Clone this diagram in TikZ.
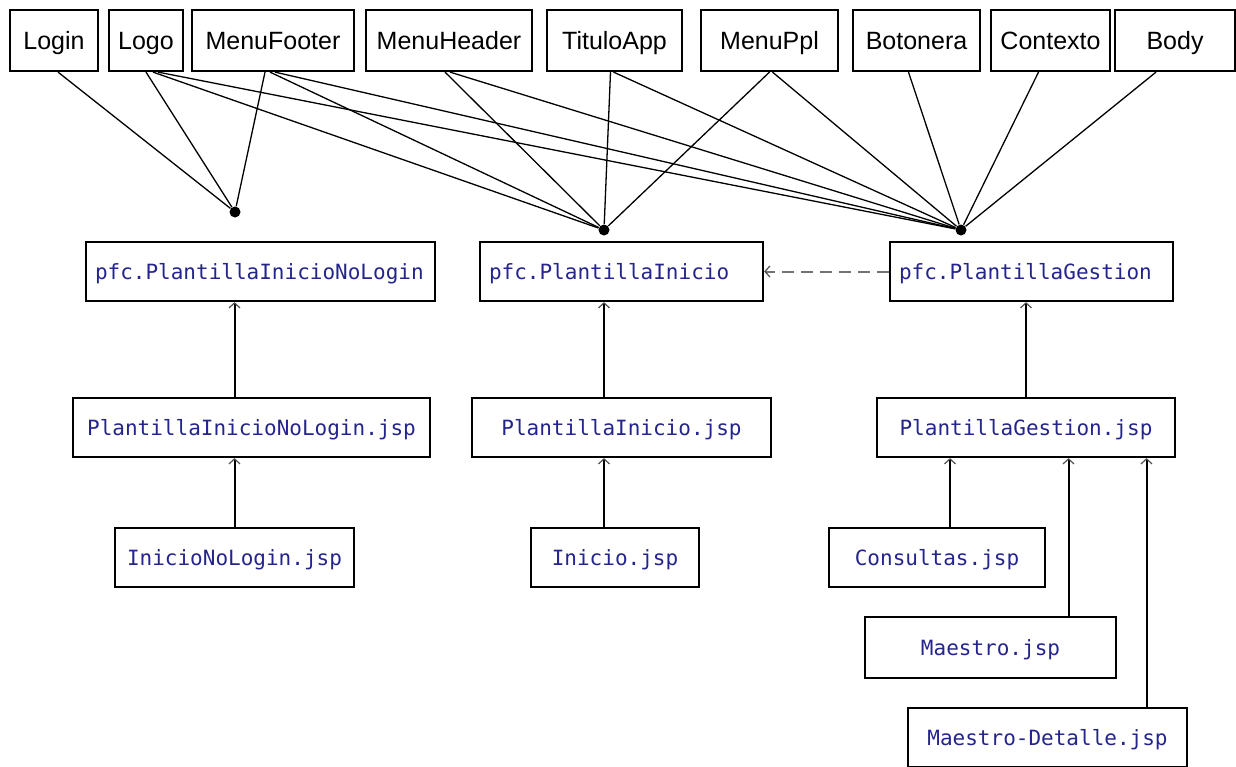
\documentclass[tikz,border=0pt]{standalone}
\usepackage{fontspec}
\setmainfont{Liberation Sans}
\setmonofont{DejaVu Sans Mono}
\usetikzlibrary{arrows.meta}
\definecolor{JspBlue}{RGB}{36,36,140}
\definecolor{DashGray}{RGB}{115,115,115}
\definecolor{TipGray}{RGB}{80,80,80}

\begin{document}
\begin{tikzpicture}[x=0.5pt,y=-0.5pt, every node/.style={inner sep=0pt}]
\tikzset{
  part/.style={draw, line width=1.1pt, minimum height=30.5pt, text height=9pt, text depth=0pt, font=\fontsize{12.5}{15}\selectfont},
  tmpl/.style={draw, line width=1.1pt, minimum height=29.5pt, inner xsep=4.5pt, align=left, text height=7.6pt, text depth=0pt, text=JspBlue, font=\ttfamily\fontsize{10.5}{12}\selectfont},
  page/.style={draw, line width=1.1pt, minimum height=29.5pt, text height=7.6pt, text depth=0pt, text=JspBlue, font=\ttfamily\fontsize{10.5}{12}\selectfont},
  joint/.style={circle, fill, inner sep=0pt, minimum size=5.5pt},
  feed/.style={line width=0.65pt},
  uses/.style={-{Straight Barb[length=2.5pt,width=5.5pt,line width=0.6pt,color=TipGray]}, line width=1pt},
  ext/.style={uses, DashGray, line width=1pt, dash pattern=on 6pt off 3.5pt}
}
\useasboundingbox (0,0) rectangle (1236,766);

  % included fragments
  \node[part, minimum width=44pt] (login) at (54,40.5) {Login};
  \node[part, minimum width=37pt] (logo) at (146,40.5) {Logo};
  \node[part, minimum width=81pt] (footer) at (273,40.5) {MenuFooter};
  \node[part, minimum width=83pt] (header) at (449,40.5) {MenuHeader};
  \node[part, minimum width=67.5pt] (titulo) at (614.5,40.5) {TituloApp};
  \node[part, minimum width=68.5pt] (menuppl) at (769.5,40.5) {MenuPpl};
  \node[part, minimum width=63.5pt] (botonera) at (916.5,40.5) {Botonera};
  \node[part, minimum width=59.5pt] (contexto) at (1050.5,40.5) {Contexto};
  \node[part, minimum width=60pt] (body) at (1175,40.5) {Body};

  \node[joint] (d1) at (235,212) {};
  \node[joint] (d2) at (604,230) {};
  \node[joint] (d3) at (961,230) {};

  % tiles templates
  \node[tmpl, text width=165.5pt] (pfcnologin) at (260.5,271.5) {pfc.PlantillaInicioNoLogin};
  \node[tmpl, text width=132.5pt] (pfcinicio) at (621.5,271.5) {pfc.PlantillaInicio};
  \node[tmpl, text width=132.5pt] (pfcgestion) at (1031.5,271.5) {pfc.PlantillaGestion};

  % jsp pages
  \node[page, minimum width=178.5pt] (plantnologin) at (251.5,427.5) {PlantillaInicioNoLogin.jsp};
  \node[page, minimum width=149.5pt] (plantinicio) at (621.5,427.5) {PlantillaInicio.jsp};
  \node[page, minimum width=149pt] (plantgestion) at (1026,427.5) {PlantillaGestion.jsp};
  \node[page, minimum width=119.5pt] (inicionologin) at (234.5,557.5) {InicioNoLogin.jsp};
  \node[page, minimum width=84pt] (inicio) at (615,557.5) {Inicio.jsp};
  \node[page, minimum width=108pt] (consultas) at (937,557.5) {Consultas.jsp};
  \node[page, minimum width=125.5pt, minimum height=30.5pt] (maestro) at (990.5,647.5) {Maestro.jsp};
  \node[page, minimum width=139.5pt] (detalle) at (1047.5,737.5) {Maestro-Detalle.jsp};

  % fragments into templates
  \draw[feed] ([xshift=2pt]login.south) -- (d1);
  \draw[feed] (logo.south) -- (d1);
  \draw[feed] ([xshift=-4pt]footer.south) -- (d1);

  \draw[feed] ([xshift=3.5pt]logo.south) -- (d2);
  \draw[feed] ([xshift=-1.5pt]footer.south) -- (d2);
  \draw[feed] ([xshift=-2pt]header.south) -- (d2);
  \draw[feed] ([xshift=-2pt]titulo.south) -- (d2);
  \draw[feed] (menuppl.south) -- (d2);

  \draw[feed] ([xshift=6pt]logo.south) -- (d3);
  \draw[feed] ([xshift=1pt]footer.south) -- (d3);
  \draw[feed] ([xshift=0.5pt]header.south) -- (d3);
  \draw[feed] ([xshift=-0.5pt]titulo.south) -- (d3);
  \draw[feed] ([xshift=1.5pt]menuppl.south) -- (d3);
  \draw[feed] ([xshift=-4pt]botonera.south) -- (d3);
  \draw[feed] ([xshift=-6pt]contexto.south) -- (d3);
  \draw[feed] ([xshift=-9.5pt]body.south) -- (d3);

  % extends
  \draw[ext] (pfcgestion.west) -- (pfcinicio.east);

  \draw[uses] (inicionologin.north) -- (inicionologin.north |- plantnologin.south);
  \draw[uses] (plantnologin.north -| inicionologin.north) -- (inicionologin.north |- pfcnologin.south);

  \draw[uses] (inicio.north -| d2) -- (plantinicio.south -| d2);
  \draw[uses] (plantinicio.north -| d2) -- (pfcinicio.south -| d2);

  \draw[uses] (plantgestion.north) -- (plantgestion.north |- pfcgestion.south);
  \coordinate (k1) at ([xshift=6.5pt]consultas.north);
  \coordinate (k2) at ([xshift=39pt]maestro.north);
  \coordinate (k3) at ([xshift=49.5pt]detalle.north);
  \draw[uses] (k1) -- (k1 |- plantgestion.south);
  \draw[uses] (k2) -- (k2 |- plantgestion.south);
  \draw[uses] (k3) -- (k3 |- plantgestion.south);
\end{tikzpicture}
\end{document}
